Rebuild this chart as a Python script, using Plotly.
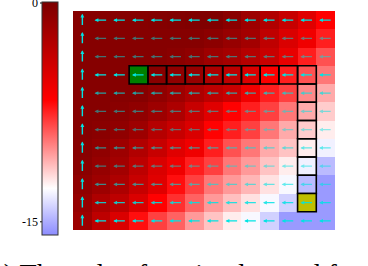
import plotly.graph_objects as go

# ---- data ----
values = [
    [-0.5, -0.5, -0.5, -0.5, -0.4, -0.3, -0.2, -0.2, -0.7, -1.7, -2.7, -3.8, -5.1, -6.7],
    [-0.5, -0.5, -0.5, -0.5, -0.5, -0.5, -0.5, -0.8, -1.4, -2.0, -3.4, -4.8, -5.9, -7.4],
    [-0.5, -0.5, -0.5, -0.5, -0.5, -0.7, -1.0, -1.7, -2.1, -2.9, -3.9, -5.5, -7.4, -8.6],
    [-0.5, -0.5, -0.5, -0.6, -0.6, -1.0, -1.3, -2.5, -3.3, -4.8, -6.5, -7.4, -8.6, -9.5],
    [-0.5, -0.5, -0.5, -0.5, -1.0, -1.7, -2.5, -3.3, -4.0, -5.9, -7.4, -8.2, -9.9, -10.7],
    [-0.5, -0.5, -0.7, -1.0, -1.7, -2.5, -3.8, -5.1, -6.7, -7.4, -8.2, -9.5, -10.7, -11.5],
    [-0.5, -0.7, -1.0, -1.7, -2.9, -3.8, -4.8, -6.7, -7.4, -8.2, -9.5, -10.7, -11.5, -12.3],
    [-0.6, -1.0, -1.7, -2.7, -3.8, -5.1, -5.9, -7.4, -8.6, -9.5, -10.7, -11.3, -12.3, -13.1],
    [-0.7, -1.3, -2.0, -3.3, -4.8, -5.9, -7.4, -8.2, -9.5, -10.3, -11.3, -12.3, -13.1, -14.6],
    [-1.0, -1.7, -2.5, -3.8, -5.1, -7.0, -8.2, -9.5, -10.3, -11.0, -12.0, -12.9, -14.6, -15.5],
    [-1.3, -2.5, -3.3, -4.8, -6.7, -7.8, -9.0, -10.3, -11.2, -12.0, -12.9, -14.0, -15.0, -15.5],
    [-1.7, -3.3, -4.8, -7.0, -8.2, -9.0, -10.3, -11.3, -12.3, -12.9, -14.0, -15.5, -15.5, -15.5],
]
policy = ["ULLLLLLLLLLLLL"] * 12
policy_certainty = [1.0, 0.5, 0.5, 1.0, 0.7, 0.5, 0.45, 0.6, 0.5, 0.6, 0.85, 1.0]
start_cell = (3, 3)
goal_cell = (10, 12)
path_cells = [(3, c) for c in range(4, 13)] + [(r, 12) for r in range(4, 10)]
cbar_ticks = [0, -15]
cbar_ticklabels = ["0", "-15"]
caption = "(a) The value function learned for the"

zmin, zmax = -15.9, 0.0

W, H = 368, 266
L, R, T, B = 73, 33, 11, 36
pw, ph = W - L - R, H - T - B


def px_x(px):
    return (px - L) / pw


def px_y(py):
    return (H - B - py) / ph


colorscale = [
    [0.0, "#8c8cff"],
    [0.20, "#ffffff"],
    [0.58, "#ff0000"],
    [1.0, "#7c0000"],
]

nrows, ncols = len(values), len(values[0])

fig = go.Figure(
    go.Heatmap(
        z=values,
        x=list(range(ncols)),
        y=list(range(nrows)),
        zmin=zmin,
        zmax=zmax,
        colorscale=colorscale,
        colorbar=dict(
            x=px_x(42), xanchor="left", xpad=0, ypad=0,
            thickness=16, thicknessmode="pixels",
            len=233, lenmode="pixels",
            y=px_y(118.5), yanchor="middle",
            showticklabels=False, ticks="",
            outlinewidth=1, outlinecolor="#333",
        ),
        hoverinfo="skip",
    )
)

annotations = []
shapes = []

# policy arrows
for r in range(nrows):
    a = policy_certainty[r]
    for c in range(ncols):
        d = policy[r][c]
        alpha = 1.0 if d == "U" else a
        col = f"rgba(0,228,228,{alpha})"
        if d == "L":
            x, y, ax, ay = c - 0.35, r, c + 0.35, r
        else:
            x, y, ax, ay = c, r - 0.35, c, r + 0.35
        annotations.append(dict(
            x=x, y=y, ax=ax, ay=ay, xref="x", yref="y", axref="x", ayref="y",
            showarrow=True, arrowhead=2, arrowsize=0.55, arrowwidth=1.4,
            arrowcolor=col, text="",
        ))

# path boxes
for (r, c) in path_cells:
    shapes.append(dict(type="rect", xref="x", yref="y", x0=c - 0.5, x1=c + 0.5,
                       y0=r - 0.5, y1=r + 0.5, line=dict(color="black", width=1.6),
                       layer="above"))
sr, sc = start_cell
shapes.append(dict(type="rect", xref="x", yref="y", x0=sc - 0.5, x1=sc + 0.5,
                   y0=sr - 0.5, y1=sr + 0.5, fillcolor="#008000",
                   line=dict(color="black", width=1.6), layer="above"))
gr, gc = goal_cell
shapes.append(dict(type="rect", xref="x", yref="y", x0=gc - 0.5, x1=gc + 0.5,
                   y0=gr - 0.5, y1=gr + 0.5, fillcolor="#bfbf00",
                   line=dict(color="black", width=1.6), layer="above"))

# colorbar tick labels (left side)
bar_top, bar_bot = 2, 235
for v, lab in zip(cbar_ticks, cbar_ticklabels):
    py = bar_top + (zmax - v) / (zmax - zmin) * (bar_bot - bar_top)
    if v == 0:
        py = 3
    annotations.append(dict(x=px_x(40), y=px_y(py), xref="paper", yref="paper",
                            text=lab, showarrow=False, xanchor="right", yanchor="middle",
                            font=dict(family="Liberation Serif", size=12, color="black")))
    shapes.append(dict(type="line", xref="paper", yref="paper",
                       x0=px_x(40), x1=px_x(43), y0=px_y(py), y1=px_y(py),
                       line=dict(color="black", width=1)))

# caption (cut off at bottom)
annotations.append(dict(x=px_x(-20), y=px_y(256), xref="paper", yref="paper",
                        text=caption, showarrow=False, xanchor="left", yanchor="top",
                        font=dict(family="Liberation Serif", size=28, color="black")))

fig.update_layout(
    width=W, height=H,
    margin=dict(l=L, r=R, t=T, b=B, pad=0, autoexpand=False),
    paper_bgcolor="white", plot_bgcolor="white",
    xaxis=dict(range=[-0.5, ncols - 0.5], visible=False, fixedrange=True),
    yaxis=dict(range=[nrows - 0.5, -0.5], visible=False, fixedrange=True),
    annotations=annotations,
    shapes=shapes,
    showlegend=False,
)

fig.write_html(
    "out.html",
    config={"displayModeBar": False},
    post_script="document.body.style.margin='0px';document.body.style.overflow='hidden';",
)
